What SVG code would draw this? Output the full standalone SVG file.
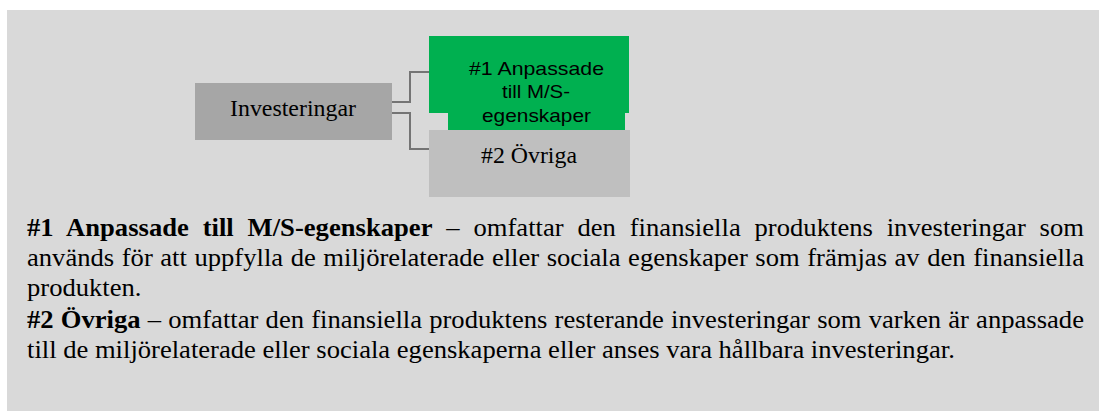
<svg xmlns="http://www.w3.org/2000/svg" width="1099" height="411" viewBox="0 0 1099 411">
<style>
.serif{font-family:"Liberation Serif","Times New Roman",serif;fill:#000}
.sans{font-family:"Liberation Sans",Arial,sans-serif;fill:#000}
.conn{fill:none;stroke:#747474;stroke-width:2}
.body{font-size:25px}
.b{font-weight:bold}
</style>
<rect x="0" y="0" width="1099" height="411" fill="#ffffff"/>
<rect x="7" y="10" width="1092" height="401" fill="#d9d9d9"/>
<g id="connectors">
<path class="conn" d="M392,102 H410 V72 H429"/>
<path class="conn" d="M392,113 H410 V149 H429"/>
</g>
<g id="node-investeringar">
<rect x="195" y="83" width="197" height="57" fill="#a6a6a6"/>
<text class="serif" x="230" y="116" font-size="24" textLength="126" lengthAdjust="spacingAndGlyphs">Investeringar</text>
</g>
<g id="node-anpassade">
<path d="M429,36 H629 V113 H625 V130 H448 V113 H429 Z" fill="#00b050"/>
<text class="sans" font-size="19">
<tspan x="469" y="75" textLength="135" lengthAdjust="spacingAndGlyphs">#1 Anpassade</tspan>
<tspan x="502" y="98" textLength="68" lengthAdjust="spacingAndGlyphs">till M/S-</tspan>
<tspan x="482" y="122" textLength="109" lengthAdjust="spacingAndGlyphs">egenskaper</tspan>
</text>
</g>
<g id="node-ovriga">
<rect x="429" y="130" width="201" height="67" fill="#bfbfbf"/>
<text class="serif" x="481" y="163" font-size="23" textLength="96" lengthAdjust="spacingAndGlyphs">#2 Övriga</text>
</g>
<g id="description">
<text class="serif body" transform="translate(27,236) scale(1.064,1)" word-spacing="6.7" textLength="993.4" lengthAdjust="spacing"><tspan class="b">#1 Anpassade till M/S-egenskaper</tspan> – omfattar den finansiella produktens investeringar som</text>
<text class="serif body" transform="translate(27,266) scale(1.064,1)" word-spacing="0.85" textLength="993.4" lengthAdjust="spacing">används för att uppfylla de miljörelaterade eller sociala egenskaper som främjas av den finansiella</text>
<text class="serif body" transform="translate(27,296) scale(1.064,1)">produkten.</text>
<text class="serif body" transform="translate(27,328) scale(1.064,1)" word-spacing="0.5" textLength="993.4" lengthAdjust="spacing"><tspan class="b">#2 Övriga</tspan> – omfattar den finansiella produktens resterande investeringar som varken är anpassade</text>
<text class="serif body" transform="translate(27,358) scale(1.064,1)">till de miljörelaterade eller sociala egenskaperna eller anses vara hållbara investeringar.</text>
</g>
</svg>
